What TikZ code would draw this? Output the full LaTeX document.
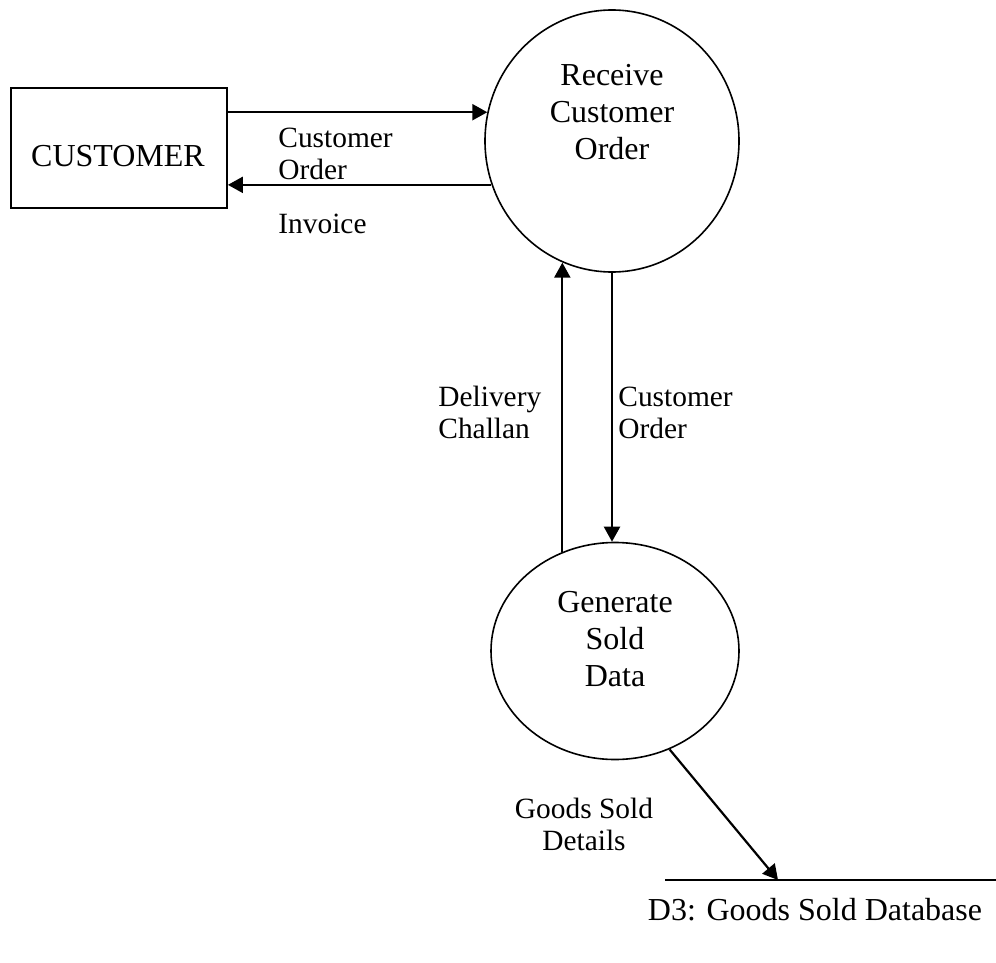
\documentclass[tikz,border=0pt]{standalone}
\usepackage{fontspec}
\setmainfont{Liberation Serif}
\usetikzlibrary{arrows.meta,shapes.geometric}
\tikzset{
  big/.style={font=\fontsize{16pt}{18.5pt}\selectfont, inner sep=0pt, align=center},
  lbl/.style={font=\fontsize{14.7pt}{16pt}\selectfont, inner sep=0pt},
  proc/.style={draw, ellipse, line width=0.8pt, inner sep=0pt},
  flow/.style={line width=1.1pt, -{Triangle[length=7.5pt,width=8pt]}},
}
\begin{document}
\begin{tikzpicture}[x=0.5pt,y=-0.5pt]
\useasboundingbox (0,0) rectangle (996,963);
% entity
\node[draw, line width=0.9pt, minimum width=108pt, minimum height=60pt, inner sep=0pt] (cust) at (119,148) {};
\node[big] (custT) at (118,156) {CUSTOMER};
% processes
\node[proc, minimum width=127pt, minimum height=131pt] (r1) at (612,141) {};
\node[big] (r1T) at (612,112) {Receive\\Customer\\Order};
\node[proc, minimum width=124pt, minimum height=108.5pt] (g) at (615,651) {};
\node[big] (gT) at (615,639.5) {Generate\\Sold\\Data};
% data store
\coordinate (dbL) at (665,880);
\coordinate (dbR) at (996,880);
\coordinate (dbIn) at (778,880);
\draw[line width=0.9pt] (dbL) -- (dbR);
\node[big] (dbT) at (815,910) {D3: Goods Sold Database};
% flows
\draw[flow] (cust.east |- r1.167) -- (r1.167);
\draw[flow] (r1.200.7) -- (cust.east |- r1.200.7);
\draw[flow] (g.118) -- (g.118 |- r1.248);
\draw[flow] (r1.south) -- (r1.south |- g.north);
\draw[flow] (g.299.7) -- (dbIn);
% labels
\node[lbl, anchor=west, align=left] (l1) at (278,154) {Customer\\Order};
\node[lbl, anchor=west] (l2) at (278,223.5) {Invoice};
\node[lbl, anchor=west, align=left] (l3) at (438,412.5) {Delivery\\Challan};
\node[lbl, anchor=west, align=left] (l4) at (618,412.5) {Customer\\Order};
\node[lbl, align=center] (l5) at (584,824) {Goods Sold\\Details};
\end{tikzpicture}
\end{document}
